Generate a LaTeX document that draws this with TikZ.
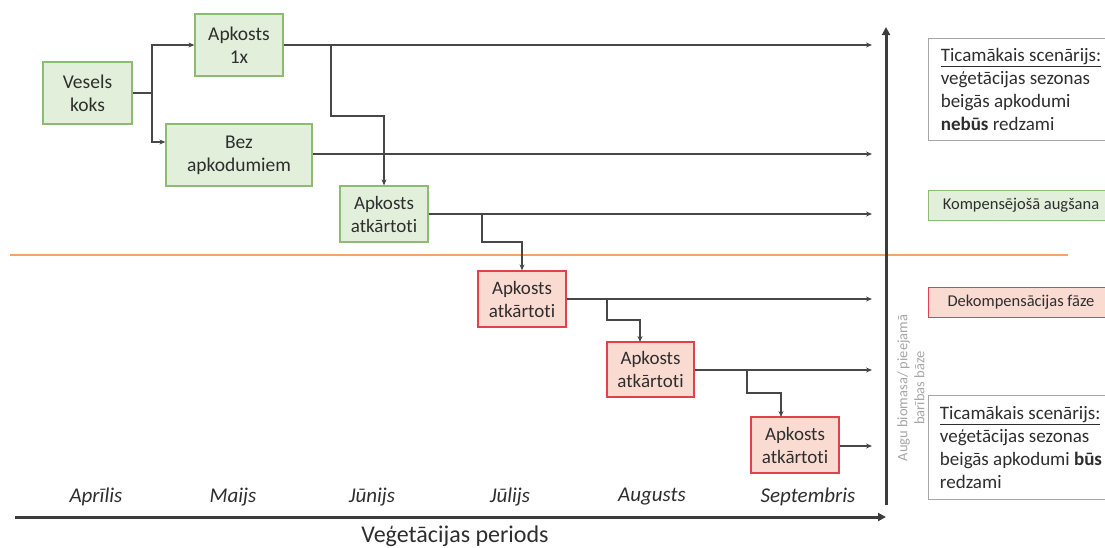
\documentclass[tikz,border=0pt]{standalone}
\usepackage{fontspec}
\setmainfont[RawFeature={-liga}]{Carlito}
\usetikzlibrary{arrows.meta,calc}
\definecolor{gfill}{HTML}{E2EFDA}
\definecolor{gdraw}{HTML}{8DBB74}
\definecolor{rfill}{HTML}{FADBD2}
\definecolor{rdraw}{HTML}{E0414B}
\definecolor{lnc}{HTML}{474747}
\definecolor{orng}{HTML}{F4A36A}
\definecolor{txt}{HTML}{2E2E2E}
\tikzset{
  gbox/.style={draw=gdraw, fill=gfill, line width=1.3pt, text=txt, align=center, inner sep=2pt, font=\fontsize{19.5}{23}\selectfont},
  rbox/.style={draw=rdraw, fill=rfill, line width=1.3pt, text=txt, align=center, inner sep=2pt, minimum width=88pt, minimum height=56pt, font=\fontsize{19}{23}\selectfont},
  arr/.style={draw=lnc, line width=1.2pt, -{Stealth[length=6pt,width=5pt]}},
  ln/.style={draw=lnc, line width=1.2pt},
  axis/.style={draw=lnc!85!black, line width=3pt, -{Triangle[length=8pt,width=8pt]}},
  month/.style={font=\fontsize{21}{24}\selectfont\itshape, text=txt},
  scen/.style={draw=gray!70, line width=1pt, fill=white, text=txt, align=left, anchor=north west, inner xsep=4pt, inner ysep=6pt, font=\fontsize{19}{23}\selectfont},
  lab/.style={anchor=north west, minimum width=185pt, font=\fontsize{16.5}{19}\selectfont, line width=1pt, inner sep=1pt},
}
\begin{document}
\begin{tikzpicture}[x=1pt,y=-1pt]
\useasboundingbox (0,0) rectangle (1105,547);
\clip (0,0) rectangle (1105,547);

% orange threshold
\draw[orng, line width=1.8pt] (10,255) -- (1068,255);

% boxes
\node[gbox, minimum width=89pt, minimum height=62pt] (vk) at (87.5,93) {Vesels\\koks};
\node[gbox, minimum width=88pt, minimum height=62pt] (a1) at (239,45) {Apkosts\\1x};
\node[gbox, minimum width=146pt, minimum height=62pt] (bez) at (239,155) {Bez\\apkodumiem};
\node[gbox, minimum width=88pt, minimum height=56pt, font=\fontsize{19}{23}\selectfont] (g2) at (384,214) {Apkosts\\atkārtoti};
\node[rbox] (r1) at (522,299) {Apkosts\\atkārtoti};
\node[rbox, minimum width=87pt, minimum height=55pt] (r2) at (650.5,369.5) {Apkosts\\atkārtoti};
\node[rbox] (r3) at (795,445) {Apkosts\\atkārtoti};

% arrow end points
\coordinate (e1) at (872,45);
\coordinate (e2) at (872,154);
\coordinate (e3) at (872,214);
\coordinate (e4) at (872,299);
\coordinate (e5) at (872,370);
\coordinate (e6) at (872,446);

% Vesels koks split
\coordinate (j0) at (152,93);
\draw[ln] (vk.east) -- (j0);
\draw[arr] (j0) |- (a1.west);
\draw[arr] (j0) |- ($(bez.west)+(0,-13)$);

% main lines
\draw[arr] (a1.east) -- (e1);
\draw[arr] (bez.east |- e2) -- (e2);
\draw[arr] (g2.east) -- (e3);
\draw[arr] (r1.east) -- (e4);
\draw[arr] (r2.east |- e5) -- (e5);
\draw[arr] (r3.east |- e6) -- (e6);

% branches
\coordinate (b1) at (331,45);
\draw[arr] (b1) -- (331,116) -- (384,116) -- (g2.north);
\coordinate (b2) at (482,214);
\draw[arr] (b2) -- (482,242) -- (522,242) -- (r1.north);
\coordinate (b3) at (607,299);
\draw[arr] (b3) -- (607,320) -- (640,320) -- (640,342);
\coordinate (b4) at (747,370);
\draw[arr] (b4) -- (747,393) -- (781,393) -- (781,417);

% axes
\coordinate (xa0) at (15,517);
\coordinate (xa1) at (886,517);
\draw[axis] (xa0) -- (xa1);
\coordinate (ya0) at (886,505);
\coordinate (ya1) at (886,27);
\draw[axis] (ya0) -- (ya1);

% months
\node[month] (m1) at (96,497) {Aprīlis};
\node[month] (m2) at (233,497) {Maijs};
\node[month] (m3) at (372,497) {Jūnijs};
\node[month] (m4) at (510,497) {Jūlijs};
\node[month] (m5) at (652,497) {Augusts};
\node[month] (m6) at (808,497) {Septembris};
\node[font=\fontsize{24}{28}\selectfont, text=txt] (xl) at (455,536) {Veģetācijas periods};

% vertical axis label
\node[rotate=90, font=\fontsize{14.5}{17}\selectfont, text=gray!70, align=center] (yl) at (911,388) {Augu biomasa/ pieejamā\\barības bāze};

% right-hand labels
\node[scen, minimum width=185pt, minimum height=102pt] (s1) at (928,38) {\underline{Ticamākais scenārijs:}\\veģetācijas sezonas\\beigās apkodumi\\\textbf{nebūs} redzami};
\node[gbox, lab, minimum height=30pt] (kg) at (928,190) {Kompensējošā augšana};
\node[rbox, lab, minimum height=30pt] (dk) at (928,287) {Dekompensācijas fāze};
\node[scen, minimum width=185pt, minimum height=104pt] (s2) at (928,395) {\underline{Ticamākais scenārijs:}\\veģetācijas sezonas\\beigās apkodumi \textbf{būs}\\redzami};
\end{tikzpicture}
\end{document}
